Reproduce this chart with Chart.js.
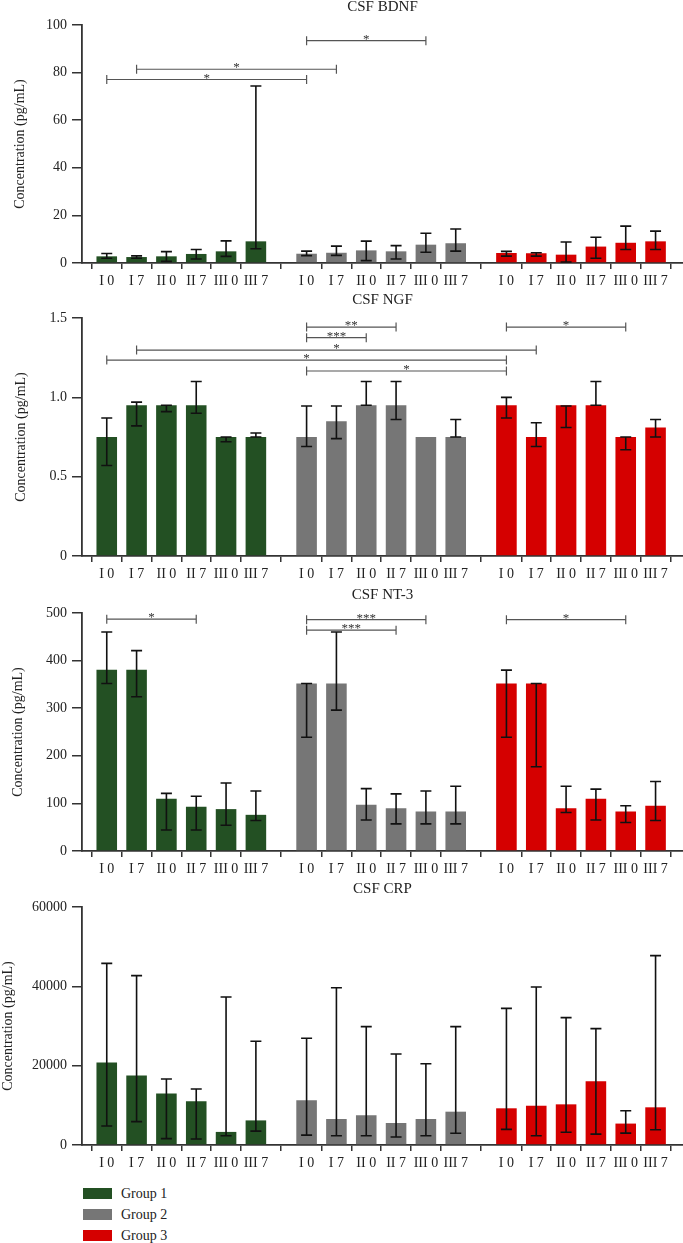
<!DOCTYPE html>
<html>
<head>
<meta charset="utf-8">
<script src="https://cdnjs.cloudflare.com/ajax/libs/Chart.js/4.4.1/chart.umd.min.js"></script>
<style>
  body{margin:0;background:#fff;width:683px;height:1243px;position:relative;overflow:hidden;
       font-family:"Liberation Serif",serif;color:#222}
  .panel{position:absolute;left:0;width:683px;height:293px}
  #legend{position:absolute;left:83px;top:1183px}
  .lg{display:flex;align-items:center;height:21.2px;font-size:14px}
  .lg i{display:inline-block;width:29px;height:11px;margin-right:9px}
</style>
</head>
<body>
<div class="panel" style="top:0"><canvas id="c0"></canvas></div>
<div class="panel" style="top:293px"><canvas id="c1"></canvas></div>
<div class="panel" style="top:588px"><canvas id="c2"></canvas></div>
<div class="panel" style="top:882px"><canvas id="c3"></canvas></div>
<div id="legend"></div>
<script>
// Tick labels under each bar, repeated for every group
const LABELS = ['I 0','I 7','II 0','II 7','III 0','III 7'];
const GROUPS = ['Group 1','Group 2','Group 3'];
const COLORS = ['#235023','#767676','#d50000'];

// Values are listed group 1 (6 bars), group 2 (6), group 3 (6).
// LOW / HIGH = ends of the error bar.
const BDNF_MEAN = [2.8,2.5,2.8,3.8,4.9,9.1,   3.9,4.3,5.3,4.9,7.7,8.3,   4.2,4.1,3.5,6.9,8.5,9.1];
const BDNF_LOW  = [2.0,2.0,0.7,1.7,2.8,6.0,   3.1,3.2,1.0,1.7,4.5,5.0,   2.9,2.9,0.4,2.0,5.7,5.7];
const BDNF_HIGH = [4.0,3.0,4.8,5.7,9.3,74.4,  5.0,7.1,9.2,7.3,12.5,14.3, 4.9,4.3,8.8,10.8,15.5,13.4];

const NGF_MEAN = [0.75,0.95,0.95,0.95,0.75,0.75,  0.75,0.85,0.95,0.95,0.75,0.75,  0.95,0.75,0.95,0.95,0.75,0.81];
const NGF_LOW  = [0.57,0.82,0.91,0.90,0.72,0.75,  0.69,0.74,0.95,0.86,0.75,0.75,  0.87,0.69,0.81,0.95,0.67,0.75];
const NGF_HIGH = [0.87,0.97,0.95,1.10,0.75,0.775, 0.945,0.945,1.10,1.10,0.75,0.86, 1.0,0.84,0.945,1.10,0.75,0.86];

const NT3_MEAN = [381,381,110,93,88,76,   352,352,97,90,83,83,   352,352,90,110,83,95];
const NT3_LOW  = [352,324,44,44,54,64,    239,296,65,57,57,57,   239,177,81,65,60,64];
const NT3_HIGH = [460,421,121,115,143,126, 352,460,131,120,126,136, 380,352,136,130,95,146];

const CRP_MEAN = [20800,17500,13000,11000,3300,6200,  11300,6550,7500,5550,6550,8400,  9250,9900,10250,16050,5400,9500];
const CRP_LOW  = [4800,5900,1600,1500,2350,3500,      2500,2350,2350,2000,2350,2950,   3950,2350,3200,2750,3000,3850];
const CRP_HIGH = [45800,42700,16650,14100,37300,26150, 26900,39650,29850,22950,20500,29850, 34450,39850,32100,29350,8650,47750];

// Significance brackets: [from bar, to bar, height, stars]
const BDNF_SIG = [[6,10,93.4,'*'],[1,7,81.4,'*'],[0,6,77.1,'*']];
const NGF_SIG  = [[6,9,1.443,'**'],[6,8,1.376,'***'],[1,13,1.298,'*'],[0,12,1.235,'*'],[6,12,1.166,'*'],[12,16,1.443,'*']];
const NT3_SIG  = [[0,3,487,'*'],[6,10,486,'***'],[6,9,464,'***'],[12,16,486,'*']];
const CRP_SIG  = [];

const X_GAP = 0.7;                       // extra slot space between groups
const FONT = '"Liberation Serif", serif';
const pos = k => Math.floor(k/6)*(6+X_GAP) + k%6;
const ALL_POS = Array.from({length:18}, (_,k)=>pos(k));

// error bars + significance brackets, drawn over the bars
function overlay(low, high, sig){
  return {
    id:'overlay',
    afterDatasetsDraw(chart){
      const {ctx, scales:{x, y}} = chart;
      ctx.save();
      ctx.strokeStyle = '#111'; ctx.lineWidth = 1.6;
      chart.data.datasets.forEach((ds, d)=>{
        chart.getDatasetMeta(d).data.forEach((bar, i)=>{
          const k = d*6+i;
          if (low[k]===high[k]) return;
          const lo = y.getPixelForValue(low[k]), hi = y.getPixelForValue(high[k]);
          ctx.beginPath();
          ctx.moveTo(bar.x, lo); ctx.lineTo(bar.x, hi);
          ctx.moveTo(bar.x-5.5, lo); ctx.lineTo(bar.x+5.5, lo);
          ctx.moveTo(bar.x-5.5, hi); ctx.lineTo(bar.x+5.5, hi);
          ctx.stroke();
        });
      });
      ctx.strokeStyle = '#555'; ctx.lineWidth = 1.2;
      ctx.fillStyle = '#333'; ctx.font = '13px '+FONT;
      ctx.textAlign = 'center'; ctx.textBaseline = 'alphabetic';
      sig.forEach(([a,b,v,txt])=>{
        const xa = x.getPixelForValue(pos(a)), xb = x.getPixelForValue(pos(b)), yy = y.getPixelForValue(v);
        ctx.beginPath();
        ctx.moveTo(xa, yy); ctx.lineTo(xb, yy);
        ctx.moveTo(xa, yy-4.5); ctx.lineTo(xa, yy+4.5);
        ctx.moveTo(xb, yy-4.5); ctx.lineTo(xb, yy+4.5);
        ctx.stroke();
        ctx.fillText(txt, (xa+xb)/2, yy+2);
      });
      ctx.restore();
    }
  };
}

function panel(id, title, mean, low, high, sig, yMax, yStep, yFmt, titlePad){
  new Chart(document.getElementById(id), {
    type:'bar',
    data:{datasets: GROUPS.map((g, gi)=>({
      label:g,
      data: LABELS.map((_, i)=>({x:pos(gi*6+i), y:mean[gi*6+i]})),
      backgroundColor: COLORS[gi],
      barPercentage:0.69, categoryPercentage:1, grouped:false
    }))},
    options:{
      responsive:true, maintainAspectRatio:false, animation:false,
      layout:{padding:0},
      plugins:{
        legend:{display:false}, tooltip:{enabled:false},
        title:{display:true, text:title, fullSize:false, color:'#222',
               font:{family:FONT, size:15, weight:'normal', lineHeight:1},
               padding:{top:0, bottom:10}}
      },
      scales:{
        x:{type:'linear', min:-0.83, max:19.32, offset:false,
           afterBuildTicks: s=>{ s.ticks = ALL_POS.map(v=>({value:v})); },
           afterFit: s=>{ s.height = 30; },
           ticks:{autoSkip:false, maxRotation:0, color:'#222', padding:4,
                  font:{family:FONT, size:14}, callback:(v,i)=>LABELS[i%6]},
           grid:{drawOnChartArea:false, tickLength:6, color:'#333', lineWidth:1.5},
           border:{color:'#333', width:1.8}},
        y:{min:0, max:yMax,
           afterFit: s=>{ s.width = 82; },
           ticks:{stepSize:yStep, color:'#222', padding:5, font:{family:FONT, size:14}, callback:yFmt},
           grid:{drawOnChartArea:false, tickLength:10, color:'#333', lineWidth:1.5},
           border:{color:'#333', width:1.8},
           title:{display:true, text:'Concentration (pg/mL)', color:'#222',
                  font:{family:FONT, size:14}, padding:{top:titlePad, bottom:0}}}
      }
    },
    plugins:[overlay(low, high, sig)]
  });
}

const plain = v=>String(v);
panel('c0','CSF BDNF', BDNF_MEAN, BDNF_LOW, BDNF_HIGH, BDNF_SIG, 100, 20, plain, 11.5);
panel('c1','CSF NGF',  NGF_MEAN,  NGF_LOW,  NGF_HIGH,  NGF_SIG, 1.5, 0.5, v=>v===0?'0':v.toFixed(1), 13);
panel('c2','CSF NT-3', NT3_MEAN,  NT3_LOW,  NT3_HIGH,  NT3_SIG, 500, 100, plain, 10);
panel('c3','CSF CRP',  CRP_MEAN,  CRP_LOW,  CRP_HIGH,  CRP_SIG, 60000, 20000, plain, 0);

document.getElementById('legend').innerHTML = GROUPS.map((g,i)=>
  `<div class="lg"><i style="background:${COLORS[i]}"></i><span>${g}</span></div>`).join('');
</script>
</body>
</html>
